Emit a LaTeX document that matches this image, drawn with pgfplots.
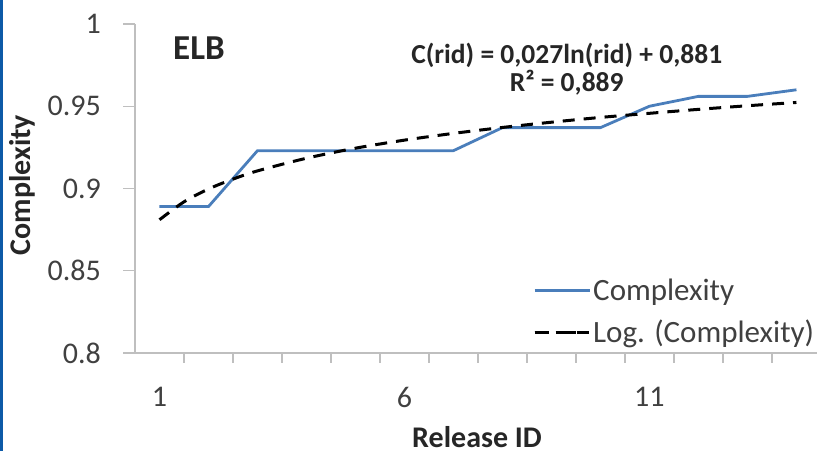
\documentclass[border=0pt]{standalone}
\usepackage{pgfplots}
\pgfplotsset{compat=1.18}
\usepackage{fontspec}
\setmainfont{Carlito}
\definecolor{excelblue}{HTML}{4A7EBB}
\definecolor{frameblue}{HTML}{0D5AA7}
\definecolor{axgray}{HTML}{BFBFBF}
\definecolor{lblgray}{HTML}{404040}
\pgfplotstableread{
x y
1 0.889
2 0.889
3 0.923
4 0.923
5 0.923
6 0.923
7 0.923
8 0.937
9 0.937
10 0.937
11 0.950
12 0.956
13 0.956
14 0.960
}\datatable
\pgfplotstableread{
x y
1 0.8810
1.5 0.8919
2 0.8997
2.5 0.9057
3 0.9107
4 0.9184
5 0.9245
6 0.9294
7 0.9335
8 0.9371
9 0.9403
10 0.9432
11 0.9457
12 0.9481
13 0.9503
14 0.9523
}\trendtable
\pgfplotsset{
  bluelegend/.style={legend image code/.code={\draw[##1] (0bp,0bp) -- (55bp,0bp);}},
  dashlegend/.style={legend image code/.code={\draw[##1, solid] (0bp,0bp) -- (14bp,0bp); \draw[##1, solid] (27bp,0bp) -- (41bp,0bp); \path (0bp,0bp) -- (55bp,0bp);}},
}
\begin{document}
\begin{tikzpicture}[x=1bp,y=1bp]
\path[use as bounding box] (0,0) rectangle (817,451);
\fill[frameblue] (0,0) rectangle (3,451);
\begin{axis}[
  at={(135bp,98bp)}, anchor=south west,
  scale only axis, width=682bp, height=329bp,
  xmin=0.5, xmax=14.42, ymin=0.8, ymax=1,
  axis x line*=bottom, axis y line*=left,
  axis line style={axgray, line width=1.3bp, -},
  xtick={1,6,11}, xticklabels={1,6,11},
  minor xtick={1.5,2.5,...,13.5},
  ytick={0.8,0.85,0.9,0.95,1}, yticklabels={0.8,0.85,0.9,0.95,1},
  tick align=outside,
  major tick length=12bp, minor tick length=10bp,
  major x tick style={draw=none},
  every tick/.style={axgray, line width=1.3bp},
  minor x tick style={axgray, line width=1.3bp},
  major y tick style={axgray, line width=1.3bp},
  tick label style={font=\fontsize{30bp}{36bp}\selectfont, text=lblgray, inner sep=0pt},
  yticklabel style={anchor=east, xshift=-22bp},
  xticklabel style={anchor=north, yshift=-22bp},
  xlabel={\bfseries Release ID},
  ylabel={\bfseries Complexity},
  label style={font=\fontsize{30bp}{36bp}\selectfont, text=black!85, inner sep=0pt},
  xlabel style={at={(axis description cs:0.5015,0)}, anchor=center, yshift=-84bp},
  ylabel style={at={(axis description cs:0,0.5106)}, anchor=center, yshift=113bp},
  legend style={draw=none, fill=none, inner sep=0pt,
    at={(axis description cs:0.5836,0.126)}, anchor=west,
    font=\fontsize{31bp}{36bp}\selectfont, text=lblgray,
    row sep=14bp,
    nodes={inner sep=2bp, anchor=west}},
  legend cell align=left,
]
\addplot[excelblue, line width=2.8bp, line join=round, bluelegend] table[x=x,y=y] {\datatable};
\addlegendentry{Complexity}
\addplot[black, line width=3bp, smooth, dash pattern=on 12bp off 9bp, dashlegend] table[x=x,y=y] {\trendtable};
\addlegendentry{Log. (Complexity)}
\node[font=\fontsize{35bp}{40bp}\selectfont\bfseries, text=black!85, inner sep=0pt] at (axis description cs:0.0938,0.927) {ELB};
\node[font=\fontsize{27.5bp}{28bp}\selectfont\bfseries, text=black!85, inner sep=0pt, align=center] at (axis description cs:0.633,0.8632) {C(rid) = 0,027ln(rid) + 0,881\\R² = 0,889};
\end{axis}
\end{tikzpicture}
\end{document}
